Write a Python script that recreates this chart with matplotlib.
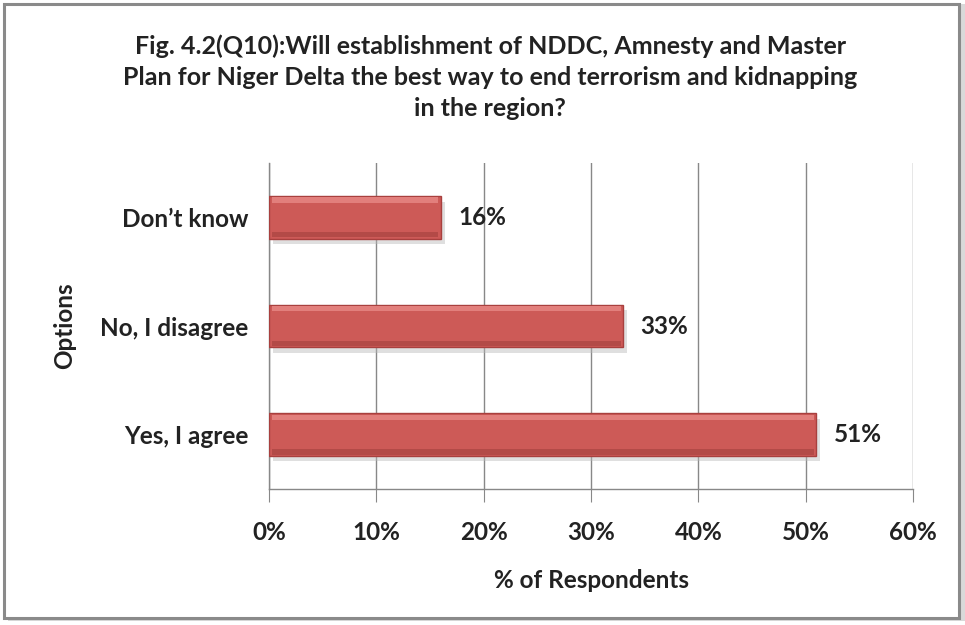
import matplotlib.pyplot as plt
from matplotlib.patches import Rectangle
from matplotlib.ticker import FuncFormatter

categories = ["Yes, I agree", "No, I disagree", "Don\u2019t know"]
values = [51, 33, 16]
xticks = [0, 10, 20, 30, 40, 50, 60]

title = ("Fig. 4.2(Q10):Will establishment of NDDC, Amnesty and Master\n"
         "Plan for Niger Delta the best way to end terrorism and kidnapping\n"
         "in the region?")

plt.rcParams['font.family'] = ['Lato', 'DejaVu Sans']
plt.rcParams['font.weight'] = 'bold'

fig = plt.figure(figsize=(9.65, 6.25), dpi=100)

# chart frame with a soft shadow
fig.patches.append(Rectangle((0.008, 0.006), 0.992, 0.988, transform=fig.transFigure,
                             facecolor='#d9d9d9', edgecolor='none', zorder=0))
fig.patches.append(Rectangle((0.004, 0.012), 0.99, 0.982, transform=fig.transFigure,
                             facecolor='white', edgecolor='#8a8a8a', linewidth=2.2, zorder=1))

ax = fig.add_axes([0.2788, 0.2176, 0.6674, 0.5216])
ax.set_zorder(2)
ax.patch.set_alpha(0)

pos = list(range(len(categories)))
h = 0.39
# drop shadow
ax.barh([p - 0.05 for p in pos], values, height=h, left=0.35, color='#b8b8b8',
        alpha=0.45, zorder=2)
# main bar body
ax.barh(pos, values, height=h, color='#cd5a57', edgecolor='#a8403e', linewidth=1, zorder=3)
# bevel: light top edge, darker bottom edge
ax.barh([p + h * 0.41 for p in pos], [v - 0.5 for v in values], left=0.25,
        height=h * 0.12, color='#e27f7c', edgecolor='none', zorder=4)
ax.barh([p - h * 0.41 for p in pos], [v - 0.5 for v in values], left=0.25,
        height=h * 0.12, color='#b34a47', edgecolor='none', zorder=4)

for p, v in zip(pos, values):
    ax.text(v + 1.6, p, f"{v}%", va='center', ha='left', fontsize=17.5,
            fontweight='bold', color='#222222', zorder=5)

ax.set_xlim(0, 60)
ax.set_ylim(-0.5, len(categories) - 0.5)
ax.set_xticks(xticks)
ax.xaxis.set_major_formatter(FuncFormatter(lambda x, _: f"{int(x)}%"))
ax.set_yticks(pos)
ax.set_yticklabels(categories)
ax.tick_params(axis='x', length=9, color='#888888', pad=14, labelsize=17.5, labelcolor='#222222')
ax.tick_params(axis='y', length=0, pad=15, labelsize=17.5, labelcolor='#222222')
ax.grid(axis='x', color='#888888', linewidth=1, zorder=1)
ax.set_axisbelow(True)
for s in ['top', 'right']:
    ax.spines[s].set_visible(False)
for s in ['left', 'bottom']:
    ax.spines[s].set_color('#888888')
    ax.spines[s].set_linewidth(1)

ax.set_xlabel("% of Respondents", fontsize=17.5, fontweight='bold', color='#222222', labelpad=18)
ax.set_ylabel("Options", fontsize=17.5, fontweight='bold', color='#222222')
ax.yaxis.set_label_coords(-0.30, 0.5)

fig.text(0.508, 0.945, title, ha='center', va='top', fontsize=18, fontweight='bold',
         color='#222222', linespacing=1.42)

fig.savefig("out.png", dpi=100)
